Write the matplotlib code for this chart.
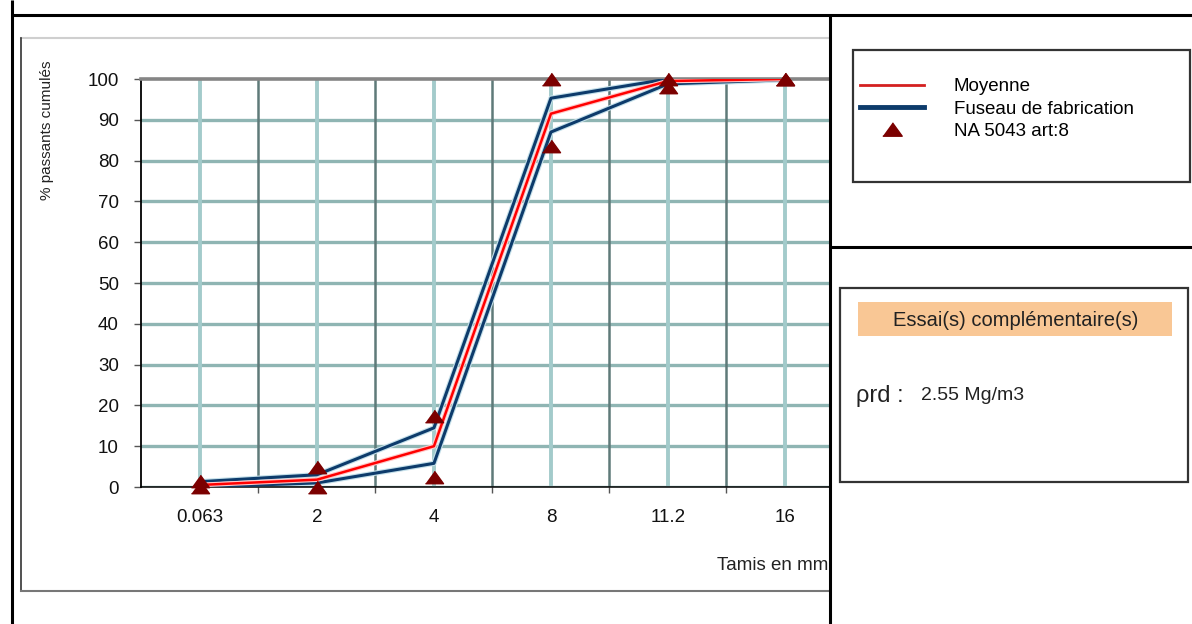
import matplotlib
matplotlib.use("Agg")
import matplotlib.pyplot as plt
from matplotlib.lines import Line2D
from matplotlib.patches import Rectangle

plt.rcParams["font.family"] = ["Liberation Sans", "DejaVu Sans"]

# ── data ──
sieves = ["0.063", "2", "4", "8", "11.2", "16"]
moyenne = [0.5, 1.8, 10, 91.5, 99.5, 100]
fuseau_sup = [1.3, 3, 14.5, 95.3, 100, 100]
fuseau_inf = [0, 1, 5.8, 87, 98.8, 99.8]
spec_max = [1.5, 5, 17.5, 100, 100, 100]
spec_min = [0, 0, 2.5, 83.5, 98, 100]
y_ticks = [0, 10, 20, 30, 40, 50, 60, 70, 80, 90, 100]

W, H = 1192, 624
fig = plt.figure(figsize=(W / 100, H / 100), dpi=100)
fig.patch.set_facecolor("white")

# main chart axes (pixel box: x 141..830, y 79..487)
ax = fig.add_axes([141 / W, 1 - 487 / H, (830 - 141) / W, (487 - 79) / H])
x = list(range(len(sieves)))
ax.set_xlim(-0.504, 5.385)
ax.set_ylim(0, 100)

grid_h = "#8fb5b3"
for v in y_ticks[:-1]:
    ax.axhline(v, color=grid_h, lw=2.4, zorder=1)
for i in x:
    ax.axvline(i, color="#a3cbcb", lw=2.8, zorder=1)
    ax.axvline(i + 0.5, color="#5f7a79", lw=1.8, zorder=1)

tri = [(-1, -0.69), (1, -0.69), (0, 0.69)]
halo = dict(solid_capstyle="round", solid_joinstyle="round")
for ys in (fuseau_sup, fuseau_inf):
    ax.plot(x, ys, color="#c4e0ea", lw=3.8, zorder=2, **halo)
    ax.plot(x, ys, color="#0d3b6b", lw=2.2, zorder=3, **halo)
ax.plot(x, moyenne, color="#ffc8c8", lw=3.4, zorder=3, **halo)
ax.plot(x, moyenne, color="#ff0000", lw=1.8, zorder=4, **halo)
for ys in (spec_max, spec_min):
    ax.plot(x, ys, ls="none", marker=tri, ms=13, color="#7b0000", zorder=5, clip_on=False)

ax.spines["right"].set_visible(False)
ax.spines["top"].set_color("#858585")
ax.spines["top"].set_linewidth(2.6)
ax.spines["left"].set_color("black")
ax.spines["left"].set_linewidth(1.3)
ax.spines["bottom"].set_color("black")
ax.spines["bottom"].set_linewidth(1.1)

ax.set_yticks(y_ticks)
ax.set_yticklabels([str(v) for v in y_ticks], fontsize=13.5, color="#111111")
ax.tick_params(axis="y", length=5, width=1, color="#555555", pad=11)
ax.set_xticks(x)
ax.set_xticklabels(sieves, fontsize=13.5, color="#111111")
ax.set_xticks([i + 0.5 for i in x[:-1]], minor=True)
ax.tick_params(axis="x", which="major", length=0, pad=16)
ax.tick_params(axis="x", which="minor", length=4, width=1, color="#555555")

# ── overlay: table frame, labels, legend, side box ──
ov = fig.add_axes([0, 0, 1, 1], facecolor="none")
ov.set_xlim(0, W)
ov.set_ylim(H, 0)
ov.axis("off")

# chart frame
ov.plot([21, 830], [38, 38], color="#cfcfcf", lw=1.5)
ov.plot([21, 21], [38, 591], color="#333333", lw=1.2)
ov.plot([21, 830], [591, 591], color="#777777", lw=1.5)

# table lines
tb = dict(color="black", lw=2.2, solid_capstyle="butt")
ov.plot([12, W], [15, 15], **tb)
ov.plot([12, 12], [0, H], **tb)
ov.plot([830, 830], [15, H], **tb)
ov.plot([830, W], [247, 247], **tb)

ov.text(47, 130, "% passants cumulés", rotation=90, ha="center", va="center",
        fontsize=11, color="#222222")
ov.text(828, 565, "Tamis en mm", ha="right", va="center", fontsize=13.5, color="#222222")

# legend box
ov.add_patch(Rectangle((853, 50), 337, 132, fill=False, ec="#333333", lw=1.6))
handles = [Line2D([0], [0], color="#d42020", lw=2),
           Line2D([0], [0], color="#0d3b6b", lw=3.5),
           Line2D([0], [0], ls="none", marker=tri, ms=14, color="#7b0000")]
fig.legend(handles, ["Moyenne", "Fuseau de fabrication", "NA 5043 art:8"],
           loc="upper left", bbox_to_anchor=(860 / W, 1 - 78 / H), frameon=False,
           fontsize=13.5, handlelength=3.4, handletextpad=1.6, labelspacing=0.28,
           borderaxespad=0, borderpad=0)

# complementary test box
ov.add_patch(Rectangle((840, 288), 348, 194, fill=False, ec="#333333", lw=1.6))
ov.add_patch(Rectangle((858, 302), 314, 34, fc="#f9c795", ec="none"))
ov.text(1016, 320, "Essai(s) complémentaire(s)", ha="center", va="center",
        fontsize=14.5, color="#222222")
ov.text(856, 396, "ρrd :", ha="left", va="center", fontsize=17, color="#222222")
ov.text(921, 396, "2.55 Mg/m3", ha="left", va="center", fontsize=14, color="#222222")

fig.savefig("out.png", dpi=100, facecolor="white")
